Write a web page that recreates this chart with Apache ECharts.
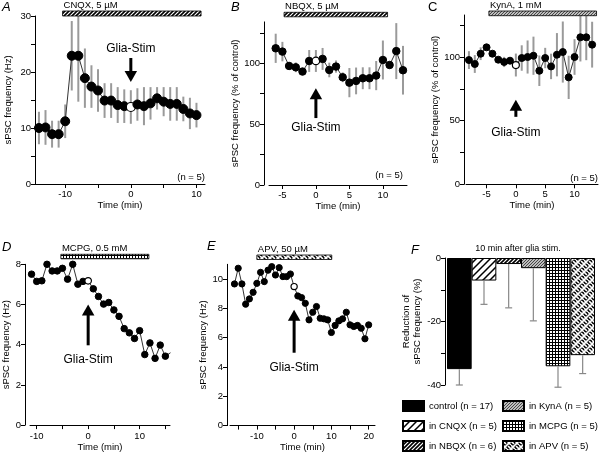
<!DOCTYPE html>
<html><head><meta charset="utf-8">
<script src="https://cdn.jsdelivr.net/npm/echarts@6/dist/echarts.min.js"></script>
<style>html,body{margin:0;padding:0;background:#fff}#c{width:600px;height:453px}</style>
</head><body><div id="c"></div>
<script>
const FONT = '"Liberation Sans", Arial, Helvetica, sans-serif';

// ---------- Panel A (CNQX) ----------
const timeA = [-14,-13,-12,-11,-10,-9,-8,-7,-6,-5,-4,-3,-2,-1,0,1,2,3,4,5,6,7,8,9,10];
const freqA = [10.0,10.1,8.9,8.9,11.2,22.9,22.9,18.9,17.4,16.7,14.9,14.9,14.1,13.9,13.75,14.2,13.9,14.4,15.3,14.7,14.3,14.3,13.4,12.6,12.3];
const errA  = [2.9,3.1,2.4,2.4,3.0,6.2,8.2,5.3,3.8,3.8,3.1,3.1,3.2,3.0,3.0,2.9,3.4,2.9,2.0,2.6,3.0,3.0,2.2,2.8,2.2];

// ---------- Panel B (NBQX) ----------
const timeB = [-6,-5,-4,-3,-2,-1,0,1,2,3,4,5,6,7,8,9,10,11,12,13];
const pctB  = [112.3,109.6,97.8,96.7,93.2,101.9,101.9,103.6,94.5,97.3,88.5,84.1,85.5,87.7,87.7,89.9,102.7,98.6,110,94.3];
const errB  = [12,8,3,4,2,9,9,9,6,5,4,12,11,9,9,12,16,3,23,20];

// ---------- Panel C (KynA) ----------
const timeC = [-8,-7,-6,-5,-4,-3,-2,-1,0,1,2,3,4,5,6,7,8,9,10,11,12,13];
const pctC  = [97.6,94.5,102.6,107.6,102.6,97.9,96.1,97.1,93.7,99.2,100,101,89.2,99.2,92.6,101.8,103.9,84,100,115.5,115.5,109.7];
const errC  = [7,7,5,2,2,2,4,2,9,10,13,15,12,8,10,17,24,17,14,19,18,18];

// ---------- Panel D (MCPG) ----------
const timeD = [-11,-10,-9,-8,-7,-6,-5,-4,-3,-2,-1,0,1,2,3,4,5,6,7,8,9,10,11,12,13,14,15,16];
const freqD = [7.51,7.15,7.18,8.0,7.67,7.67,7.8,7.26,8.0,7.01,7.15,7.18,6.78,6.4,6.02,6.1,5.73,5.41,4.8,4.59,4.31,4.70,3.51,4.09,3.32,3.98,3.43,3.6];

// ---------- Panel E (APV) ----------
const timeE = [-16,-15,-14,-13,-12,-11,-10,-9,-8,-7,-6,-5,-4,-3,-2,-1,0,1,2,3,4,5,6,7,8,9,10,11,12,13,14,15,16,17,18,19,20];
const freqE = [9.66,10.73,9.66,8.28,8.64,9.09,9.7,10.45,9.82,10.6,10.84,10.27,10.77,10.16,10.16,10.34,9.48,8.84,8.73,8.34,7.21,7.73,8.12,7.32,7.28,7.21,6.35,6.83,7.14,7.28,7.73,6.87,6.76,6.83,6.64,5.92,6.87];

// ---------- Panel F (summary) ----------
const categoriesF = ['control (n = 17)','in CNQX (n = 5)','in NBQX (n = 6)','in KynA (n = 5)','in MCPG (n = 5)','in APV (n = 5)'];
const reductionF  = [-35.0,-7.1,-1.9,-3.2,-34.1,-30.6];
const errF        = [5.0,7.5,13.8,16.6,6.6,5.8];

// ---------- drug application bars (A..E) ----------
const drugLabels = ['CNQX, 5 µM','NBQX, 5 µM','KynA, 1 mM','MCPG, 0.5 mM','APV, 50 µM'];
const drugStart  = [-10.4,-4.75,-4.6,-5.3,-10.0];
const drugEnd    = [10.7,10.7,13.75,11.8,10.1];

// ---------- Glia-Stim arrows (A..E): tail value, tip value, text value ----------
const arrowTail = [22.5,55,53,3.97,4.97];
const arrowTip  = [18.2,79.5,66.4,6.0,7.9];
const arrowText = [24.2,46.7,40.3,3.27,3.95];

// ---------- patterns ----------
function pat(size, draw){ const c=document.createElement('canvas'); c.width=size; c.height=size; const g=c.getContext('2d'); draw(g,size); return {image:c, repeat:'repeat'}; }
function hatch(size, lw, bg, fg){ return pat(size,(g,s)=>{ g.fillStyle=bg; g.fillRect(0,0,s,s); g.strokeStyle=fg; g.lineWidth=lw; g.beginPath(); g.moveTo(-1,1); g.lineTo(1,-1); g.moveTo(0,s); g.lineTo(s,0); g.moveTo(s-1,s+1); g.lineTo(s+1,s-1); g.stroke(); }); }
const pWide = hatch(7,1.5,'#fff','#000');
const pDense = hatch(4,1.6,'#fff','#000');
const pGray = hatch(3,0.9,'#bdbdbd','#3a3a3a');
const pGrid = pat(3,(g,s)=>{ g.fillStyle='#fff'; g.fillRect(0,0,s,s); g.fillStyle='#000'; g.fillRect(0,0,s,1); g.fillRect(0,0,1,s); });
const pWeave = pat(8,(g,s)=>{ g.fillStyle='#000'; g.fillRect(0,0,s,s); g.strokeStyle='#fff'; g.lineWidth=1.6; g.beginPath();
  g.moveTo(0,0); g.lineTo(3,3); g.moveTo(5,5); g.lineTo(8,8);
  g.moveTo(0,8); g.lineTo(8,0); g.moveTo(-1,1); g.lineTo(1,-1); g.moveTo(7,9); g.lineTo(9,7);
  g.moveTo(4,0); g.lineTo(8,4); g.moveTo(0,4); g.lineTo(4,8); g.stroke(); });
const fillsF = ['#000', pWide, pDense, pGray, pGrid, pWeave];
const drugFills = [pDense, pDense, pGray, pGrid, pWeave];

// ---------- layout ----------
const grids = [
  {left:35, top:16, width:170, height:168},
  {left:269, top:21.9, width:138, height:163.1},
  {left:466, top:15, width:132, height:169.3},
  {left:30, top:264.3, width:140, height:161.7},
  {left:230, top:264.3, width:145, height:161.7},
  {left:447, top:258, width:148, height:127}
];
const txt = {fontSize:9.5, fontFamily:FONT, color:'#000'};

function timeAxis(gi,min,max,ticks,labels,margin,nameGap){
  return {type:'value', gridIndex:gi, min, max, name:'Time (min)', nameLocation:'middle', nameGap,
    nameTextStyle:txt,
    axisLine:{show:true,onZero:false,lineStyle:{color:'#000',width:1}},
    axisTick:{show:true,customValues:ticks,length:4,lineStyle:{color:'#000',width:1}},
    axisLabel:Object.assign({customValues:labels,margin},txt),
    splitLine:{show:false}};
}
function valAxis(gi,min,max,ticks,labels,name,nameGap,offset,nameStyle){
  return {type:'value', gridIndex:gi, min, max, name, nameLocation:'middle', nameGap, offset,
    nameTextStyle:Object.assign({},txt,nameStyle||{}),
    axisLine:{show:true,onZero:false,lineStyle:{color:'#000',width:1}},
    axisTick:{show:true,customValues:ticks,length:4,lineStyle:{color:'#000',width:1}},
    axisLabel:Object.assign({customValues:labels,margin:4},txt),
    splitLine:{show:false}};
}

const xAxis = [
  timeAxis(0,-14.6,11.3,[-10,-5,0,5,10],[-10,0,10],5,13),
  timeAxis(1,-7,13.6,[-5,0,5,10],[-5,0,5,10],5,12),
  timeAxis(2,-8.5,14,[-5,0,5,10],[-5,0,5,10],5,11),
  timeAxis(3,-11.3,15.9,[-10,-5,0,5,10,15],[-10,0,10],6,14),
  timeAxis(4,-17.2,21.7,[-15,-10,-5,0,5,10,15,20],[-10,0,10,20],5.5,15),
  {type:'category', gridIndex:5, data:categoriesF, show:false}
];
const yAxis = [
  valAxis(0,0,30,[0,5,10,15,20,25,30],[0,10,20,30],'sPSC frequency (Hz)',22,0),
  valAxis(1,0,134,[0,25,50,75,100,125],[0,50,100],'sPSC frequency (% of control)',22,5),
  valAxis(2,0,133,[0,25,50,75,100,125],[0,50,100],'sPSC frequency (% of control)',17,2),
  valAxis(3,0,8,[0,2,4,6,8],[0,2,4,6,8],'sPSC frequency (Hz)',12,5),
  valAxis(4,0,11,[0,2,4,6,8,10],[0,2,4,6,8,10],'sPSC frequency (Hz)',15,3),
  valAxis(5,-40,0,[-40,-30,-20,-10,0],[-40,-20,0],'Reduction of\nsPSC frequency (%)',7,2,{lineHeight:11})
];

const series = [];
const panels = [
  {t:timeA, v:freqA, e:errA, size:9},
  {t:timeB, v:pctB, e:errB, size:7.5},
  {t:timeC, v:pctC, e:errC, size:7},
  {t:timeD, v:freqD, e:null, size:6.5},
  {t:timeE, v:freqE, e:null, size:6.2}
];
const yMins = [0,0,0,0,0];
const drugOff = [[5,5],[9.6,4.5],[4,4.7],[10,4.5],[9.3,4.5]];

panels.forEach((p,gi)=>{
  if(p.e){
    series.push({type:'custom', xAxisIndex:gi, yAxisIndex:gi, z:1, silent:true,
      data:p.t.map((t,i)=>[t,p.v[i],p.e[i]]),
      renderItem:(params,api)=>{ const x=api.value(0), y=api.value(1), e=api.value(2);
        const a=api.coord([x,y+e]), b=api.coord([x,y-e]);
        return {type:'line', shape:{x1:a[0],y1:a[1],x2:b[0],y2:b[1]}, style:{stroke:'#9a9a9a', lineWidth:2}}; }});
  }
  series.push({type:'line', xAxisIndex:gi, yAxisIndex:gi, z:3, silent:true,
    symbol:'circle', symbolSize:p.size, showAllSymbol:true,
    lineStyle:{color:'#333', width:1},
    itemStyle:{color:'#000', borderColor:'#000', borderWidth:1},
    data:p.t.map((t,i)=> t===0 ? {value:[t,p.v[i]], itemStyle:{color:'#fff', borderColor:'#000', borderWidth:1.2}} : {value:[t,p.v[i]]})});
  // drug bar
  series.push({type:'custom', xAxisIndex:gi, yAxisIndex:gi, z:4, silent:true, clip:false,
    data:[[drugStart[gi], drugEnd[gi]]],
    renderItem:(params,api)=>{ const a=api.coord([api.value(0),yMins[gi]])[0], b=api.coord([api.value(1),yMins[gi]])[0];
      const top=params.coordSys.y-drugOff[gi][0], h=drugOff[gi][1];
      return {type:'group', children:[
        {type:'rect', shape:{x:a,y:top,width:b-a,height:h}, style:{fill:drugFills[gi], stroke:'#000', lineWidth:0.8}},
        {type:'text', style:{text:drugLabels[gi], x:a+1, y:top-0.5, align:'left', verticalAlign:'bottom', font:'9.5px '+FONT, fill:'#000'}}
      ]}; }});
  // Glia-Stim arrow
  series.push({type:'custom', xAxisIndex:gi, yAxisIndex:gi, z:4, silent:true, clip:false,
    data:[[0, arrowTail[gi], arrowTip[gi], arrowText[gi]]],
    renderItem:(params,api)=>{ const x=api.value(0);
      const t=api.coord([x,api.value(1)]), h=api.coord([x,api.value(2)]), c=api.coord([x,api.value(3)]);
      const dir=Math.sign(h[1]-t[1]); const L=11, W=12.5;
      return {type:'group', children:[
        {type:'line', shape:{x1:t[0],y1:t[1],x2:h[0],y2:h[1]-dir*(L-1)}, style:{stroke:'#000', lineWidth:3}},
        {type:'polygon', shape:{points:[[h[0],h[1]],[h[0]-W/2,h[1]-dir*L],[h[0]+W/2,h[1]-dir*L]]}, style:{fill:'#000'}},
        {type:'text', style:{text:'Glia-Stim', x:c[0], y:c[1], align:'center', verticalAlign:'middle', font:'12px '+FONT, fill:'#000'}}
      ]}; }});
});

// Panel F bars
categoriesF.forEach((name,i)=>{
  series.push({type:'bar', name, xAxisIndex:5, yAxisIndex:5, barWidth:'100%', barGap:'-100%', z:2, silent:true,
    data:categoriesF.map((_,j)=> j===i ? reductionF[i] : '-'),
    itemStyle:{color:fillsF[i], borderColor:'#000', borderWidth:1}});
});
series.push({type:'custom', xAxisIndex:5, yAxisIndex:5, z:3, silent:true,
  data:categoriesF.map((c,i)=>[i,reductionF[i],errF[i]]),
  renderItem:(params,api)=>{ const i=api.value(0), v=api.value(1), e=api.value(2);
    const a=api.coord([i,v]), b=api.coord([i,v-e]);
    return {type:'group', children:[
      {type:'line', shape:{x1:a[0],y1:a[1],x2:b[0],y2:b[1]}, style:{stroke:'#888', lineWidth:1.2}},
      {type:'line', shape:{x1:b[0]-3.5,y1:b[1],x2:b[0]+3.5,y2:b[1]}, style:{stroke:'#888', lineWidth:1.2}}
    ]}; }});

const legendBase = {orient:'vertical', padding:0, itemWidth:21, itemHeight:10, itemGap:8, icon:'rect', selectedMode:false,
  textStyle:{fontSize:9.5, fontFamily:FONT, color:'#000', lineHeight:12}};

const gText = (text,x,y,opt)=>Object.assign({type:'text', x, y, style:Object.assign({text, fill:'#000', font:'9.5px '+FONT}, opt||{})});

const chart = echarts.init(document.getElementById('c'), null, {renderer:'canvas'});
chart.setOption({
  animation:false,
  backgroundColor:'#fff',
  grid:grids,
  xAxis, yAxis, series,
  legend:[
    Object.assign({left:402, top:400, data:categoriesF.slice(0,3)}, legendBase),
    Object.assign({left:502, top:400, data:categoriesF.slice(3)}, legendBase)
  ],
  graphic:[
    gText('A',2,1,{font:'italic 13px '+FONT}),
    gText('B',231,1,{font:'italic 13px '+FONT}),
    gText('C',428,1,{font:'13px '+FONT}),
    gText('D',2,241,{font:'italic 13px '+FONT}),
    gText('E',207,240,{font:'italic 13px '+FONT}),
    gText('F',411,244,{font:'italic 13px '+FONT}),
    gText('(n = 5)',205,177,{align:'right', verticalAlign:'middle'}),
    gText('(n = 5)',403,175,{align:'right', verticalAlign:'middle'}),
    gText('(n = 5)',598,178,{align:'right', verticalAlign:'middle'}),
    gText('10 min after glia stim.',518,249,{align:'center', verticalAlign:'middle', font:'9px '+FONT})
  ]
});
</script></body></html>
